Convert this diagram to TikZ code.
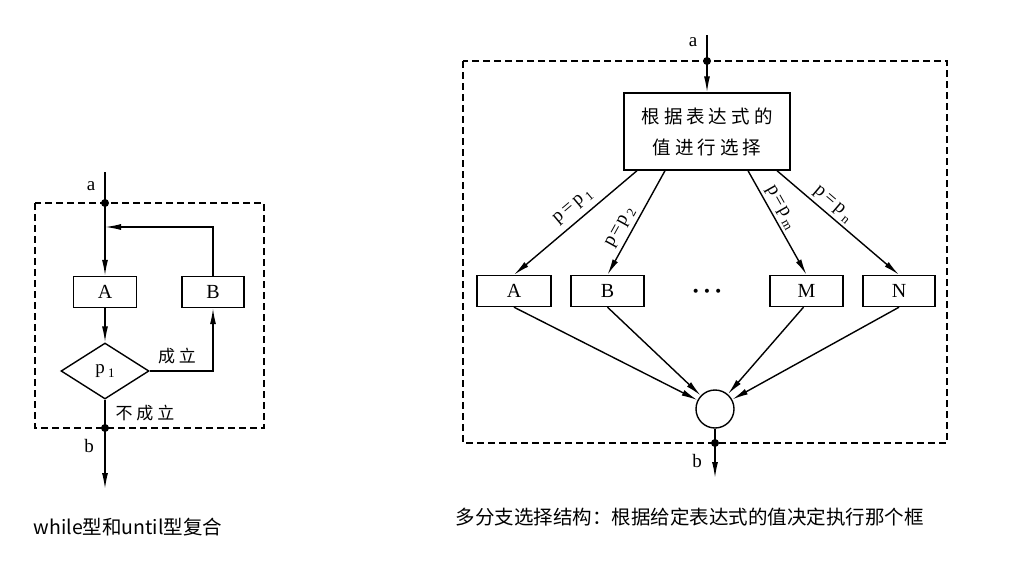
\documentclass[tikz,border=0pt]{standalone}
\usepackage{fontspec}
\setmainfont{Liberation Serif}
\newfontfamily\cjk{Noto Sans CJK SC}
\usetikzlibrary{arrows.meta,shapes.geometric,calc}
\newcommand\gapc{\hspace{4pt}}
\newcommand\lsub[1]{\raisebox{-0.22em}{\fontsize{13}{13}\selectfont #1}}
\begin{document}
\begin{tikzpicture}[x=1pt,y=-1pt, line width=1.4pt,
  box/.style={draw, rectangle, inner sep=0pt, minimum height=31pt, font=\fontsize{20}{22}\selectfont},
  arr/.style={-{Latex[length=16pt,width=6pt]}},
  dotc/.style={circle, fill, inner sep=0pt, minimum size=8pt},
  frame/.style={dash pattern=on 7pt off 4pt, line width=1.3pt},
  lab/.style={font=\fontsize{19}{21}\selectfont, inner sep=0pt},
  zh/.style={font=\cjk\fontsize{17}{19}\selectfont, inner sep=0pt},
  plab/.style={font=\fontsize{19}{21}\selectfont, sloped, inner sep=0pt},
  captxt/.style={anchor=west, font=\cjk\fontsize{19.5}{22}\selectfont, inner sep=0pt}]
\useasboundingbox (0,0) rectangle (1020,565);
\fill[white] (0,0) rectangle (1020,565);

% ---------- left diagram ----------
\draw[frame] (35,203) rectangle (264,428);
\coordinate (a1) at (105,172);
\node[dotc] (d1) at (105,203) {};
\coordinate (j1) at (105,227);
\node[box, minimum width=63pt] (A) at (105,292) {A};
\node[box, minimum width=62pt] (B) at (213,292) {B};
\node[draw, diamond, aspect=1.57, minimum width=88pt, minimum height=56pt, inner sep=0pt,
      font=\fontsize{19}{21}\selectfont] (P) at (105,371) {p\,\lsub{1}};
\node[dotc] (d2) at (105,428) {};
\coordinate (e1) at (105,489);
\node[lab] (la) at (91,186) {a};
\node[lab] (lb) at (89,446) {b};
\node[zh] (yes) at (177,356) {成\gapc 立};
\node[zh] (no) at (145,413) {不\gapc 成\gapc 立};

\draw (a1) -- (d1.center) -- (j1);
\draw[arr] (j1) -- (A.north);
\draw[arr] (A.south) -- (P.north);
\draw[arr] (P.east) -| (B.south);
\draw[arr] (B.north) |- (j1);
\draw (P.south) -- (d2.center);
\draw[arr] (d2.center) -- (e1);

% ---------- right diagram ----------
\draw[frame] (463,61) rectangle (947,443);
\coordinate (a2) at (707,35);
\node[dotc] (d3) at (707,61) {};
\node[draw, rectangle, inner sep=0pt, minimum width=166pt, minimum height=77pt, align=center,
      font=\cjk\fontsize{18.5}{31}\selectfont] (T) at (707,131.5)
      {根\gapc 据\gapc 表\gapc 达\gapc 式\gapc 的\\值\gapc 进\gapc 行\gapc 选\gapc 择};
\node[box, minimum width=74pt] (A2) at (514,291) {A};
\node[box, minimum width=73pt] (B2) at (607.5,291) {B};
\node[box, minimum width=73pt] (M2) at (806.5,291) {M};
\node[box, minimum width=72pt] (N2) at (899,291) {N};
\node[font=\fontsize{34}{36}\selectfont, inner sep=0pt] (dots) at (707,296) {···};
\node[draw, circle, minimum size=38pt, inner sep=0pt] (C) at (715,409) {};
\node[dotc] (d4) at (715,443) {};
\coordinate (e2) at (715,478);
\node[lab] (la2) at (693,42) {a};
\node[lab] (lb2) at (697,461) {b};

\draw (a2) -- (d3.center);
\draw[arr] (d3.center) -- (T.north);
\draw[arr] ([xshift=-70pt]T.south) -- node[plab, pos=0.45, above=6pt] {p\hspace{3pt}=\hspace{3pt}p\,\lsub{1}} (A2.north);
\draw[arr] ([xshift=-42pt]T.south) -- node[plab, pos=0.6, above=4pt] {p\hspace{2pt}=\hspace{2pt}p\,\lsub{2}} (B2.north);
\draw[arr] ([xshift=41pt]T.south) -- node[plab, pos=0.4, above=3pt] {p\hspace{2pt}=\hspace{2pt}p\,\lsub{m}} (M2.north);
\draw[arr] ([xshift=70pt]T.south) -- node[plab, pos=0.4, above=3pt] {p\hspace{3pt}=\hspace{3pt}p\,\lsub{n}} (N2.north);
\draw[arr] (A2.south) -- (C);
\draw[arr] (B2.south) -- (C);
\draw[arr] ([xshift=-3pt]M2.south) -- (C);
\draw[arr] (N2.south) -- (C);
\draw (C.south) -- (d4.center);
\draw[arr] (d4.center) -- (e2);

% ---------- captions ----------
\node[captxt] (cap1) at (33,527) {while型和until型复合};
\node[captxt] (cap2) at (455,517) {多分支选择结构：根据给定表达式的值决定执行那个框};
\end{tikzpicture}
\end{document}
